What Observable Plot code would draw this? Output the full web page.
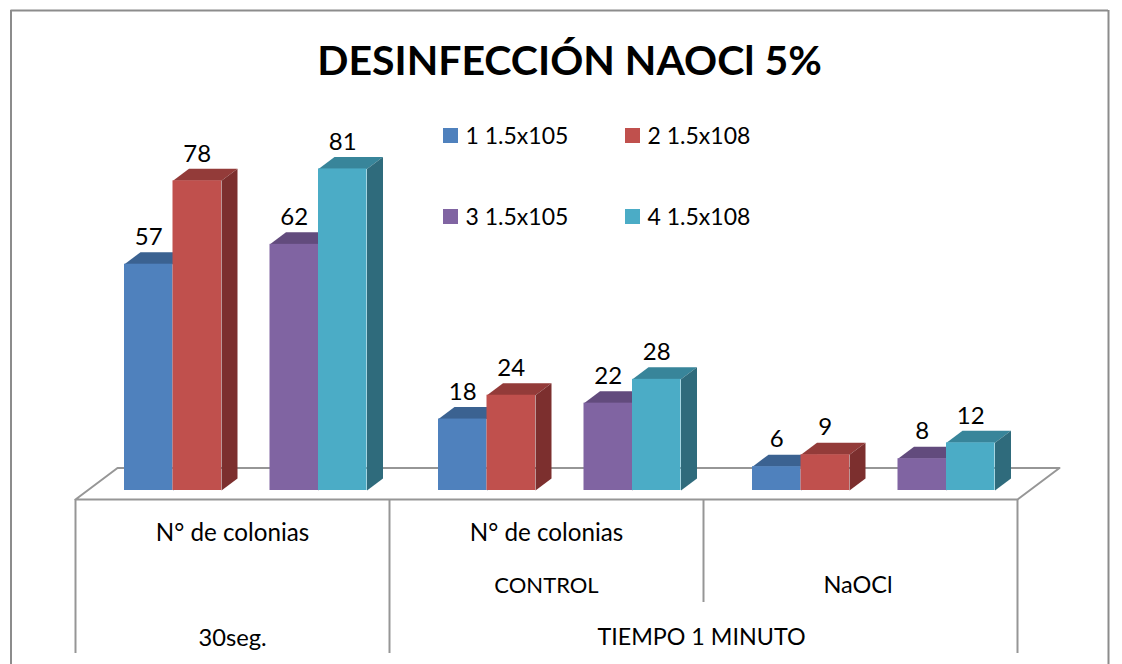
<!DOCTYPE html>
<html lang="es">
<head>
<meta charset="utf-8">
<title>DESINFECCIÓN NAOCl 5%</title>
<script src="https://cdn.jsdelivr.net/npm/d3@7"></script>
<script src="https://cdn.jsdelivr.net/npm/@observablehq/plot@0.6"></script>
<style>
html,body{margin:0;padding:0;background:#fff;overflow:hidden}
svg{display:block}
</style>
</head>
<body>
<div id="chart"></div>
<script>
// ---- data ----
const chartTitle = "DESINFECCIÓN NAOCl 5%";
const seriesNames = ["1 1.5x105", "2 1.5x108", "3 1.5x105", "4 1.5x108"];
const categoryLevel1 = ["N° de colonias", "N° de colonias", ""];
const categoryLevel2 = ["", "CONTROL", "NaOCl"];
const categoryLevel3 = ["30seg.", "TIEMPO 1 MINUTO"];
const values1 = [57, 18, 6];
const values2 = [78, 24, 9];
const values3 = [62, 22, 8];
const values4 = [81, 28, 12];
const frontColors = ["#4F81BD", "#C0504D", "#8064A2", "#4BACC6"];
const topColors = ["#3B6291", "#933B39", "#624B7D", "#38859A"];
const sideColors = ["#2F4D73", "#7C2F2E", "#4E3D63", "#2F6B7C"];

// ---- layout of the pseudo 3D chart ----
const W = 1122, H = 664;
const x0 = 75, catW = 314, y0 = 490, unit = 3.97;
const barW = 48.5 / catW, start = 49 / catW;
const offsets = [start, start + barW, start + 3 * barW, start + 4 * barW];
const depthX = 16 / catW, depthY = 12 / unit;
// convert reference positions to scale units for furniture (frame, floor, legend, labels)
const ux = p => (p - x0) / catW;
const uy = p => (y0 - p) / unit;

const allValues = [values1, values2, values3, values4];
const bars = allValues.flatMap((vals, s) => vals.map((v, c) => ({
  s, c, v,
  x1: c + offsets[s], x2: c + offsets[s] + barW,
  front: frontColors[s], top: topColors[s], side: sideColors[s]
})));
const key = (d) => `${d.s}-${d.c}`;
const topFace = bars.flatMap(d => [
  {k: key(d), x: d.x1, y: d.v, f: d.top},
  {k: key(d), x: d.x2, y: d.v, f: d.top},
  {k: key(d), x: d.x2 + depthX, y: d.v + depthY, f: d.top},
  {k: key(d), x: d.x1 + depthX, y: d.v + depthY, f: d.top}
]);
const sideFace = bars.flatMap(d => [
  {k: key(d), x: d.x2, y: 0, f: d.side},
  {k: key(d), x: d.x2, y: d.v, f: d.side},
  {k: key(d), x: d.x2 + depthX, y: d.v + depthY, f: d.side},
  {k: key(d), x: d.x2 + depthX, y: depthY, f: d.side}
]);

const gridColor = "#969696";
const floorFront = uy(499), floorBack = uy(467.5), floorDX = 42 / catW;
const floor = [
  {x: 0, y: floorFront}, {x: floorDX, y: floorBack},
  {x: 3 + floorDX, y: floorBack}, {x: 3, y: floorFront}, {x: 0, y: floorFront}
];
const dividers = [
  {x: 0, end: 653}, {x: 1, end: 653}, {x: 2, end: 602}, {x: 3, end: 653}
];
const legendX = [443, 625, 443, 625];
const legendY = [128, 128, 209, 209];
const legend = seriesNames.map((name, i) => ({
  name, color: frontColors[i],
  x1: ux(legendX[i]), x2: ux(legendX[i] + 15),
  y1: uy(legendY[i]), y2: uy(legendY[i] + 15),
  tx: ux(legendX[i] + 22), ty: uy(legendY[i] + 8)
}));
const level1Size = 24.2, level2Sizes = [0, 22, 23.5], level3Sizes = [23.7, 23.3];
const catLabels = [
  ...categoryLevel1.map((t, i) => ({t, x: i + 0.5, y: uy(533), size: level1Size})),
  ...categoryLevel2.map((t, i) => ({t, x: i === 2 ? ux(857.5) : i + 0.5, y: uy(585), size: level2Sizes[i]})),
  {t: categoryLevel3[0], x: 0.5, y: uy(638), size: level3Sizes[0]},
  {t: categoryLevel3[1], x: ux(701), y: uy(637), size: level3Sizes[1]}
].filter(d => d.t);

const chart = Plot.plot({
  width: W, height: H,
  marginTop: 0, marginRight: 0, marginBottom: 0, marginLeft: 0,
  x: {type: "linear", domain: [0, 3], range: [x0, x0 + 3 * catW], axis: null},
  y: {type: "linear", domain: [uy(H), uy(0)], range: [H, 0], axis: null},
  color: {type: "identity"},
  style: {fontFamily: "Lato, Carlito, sans-serif", background: "#fff", color: "#000"},
  marks: [
    // outer frame
    Plot.ruleX([ux(10.5), ux(1108)], {y1: uy(10), y2: uy(H), stroke: "#8c8c8c", strokeWidth: 2}),
    Plot.ruleY([uy(10)], {x1: ux(10.5), x2: ux(1108), stroke: "#8c8c8c", strokeWidth: 2}),
    // floor and category dividers
    Plot.line(floor, {x: "x", y: "y", stroke: gridColor, strokeWidth: 2}),
    Plot.ruleX(dividers, {x: "x", y1: floorFront, y2: d => uy(d.end), stroke: gridColor, strokeWidth: 2}),
    // 3D bars
    Plot.line(topFace, {x: "x", y: "y", z: "k", fill: "f", stroke: null}),
    Plot.line(sideFace, {x: "x", y: "y", z: "k", fill: "f", stroke: null}),
    Plot.rectY(bars, {x1: "x1", x2: "x2", y1: 0, y2: "v", fill: "front", inset: 0}),
    // value labels
    Plot.text(bars, {
      x: d => (d.x1 + d.x2) / 2,
      y: "v",
      text: d => String(d.v),
      dy: -27,
      fontSize: 24,
      fill: "#000"
    }),
    // category labels
    Plot.text(catLabels, {x: "x", y: "y", text: "t", fontSize: "size", fill: "#000"}),
    // legend
    Plot.rect(legend, {x1: "x1", x2: "x2", y1: "y1", y2: "y2", fill: "color"}),
    Plot.text(legend, {x: "tx", y: "ty", text: "name", textAnchor: "start", fontSize: 23, fill: "#000"}),
    // title
    Plot.text([chartTitle], {x: ux(569), y: uy(61), text: d => d, fontSize: 41, fontWeight: "bold", fill: "#000"})
  ]
});
document.getElementById("chart").appendChild(chart);
</script>
</body>
</html>
